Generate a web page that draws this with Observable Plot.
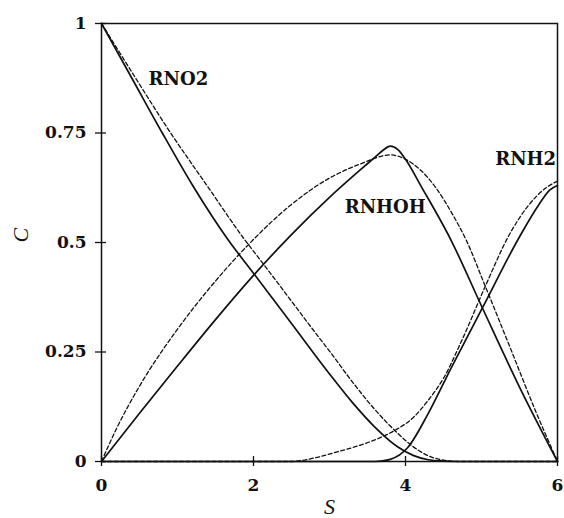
<!DOCTYPE html>
<html>
<head>
<meta charset="utf-8">
<script src="https://cdn.jsdelivr.net/npm/d3@7"></script>
<script src="https://cdn.jsdelivr.net/npm/@observablehq/plot@0.6"></script>
<style>
  html, body { margin: 0; padding: 0; background: #fff; }
  #chart svg { display: block; }
</style>
</head>
<body>
<div id="chart"></div>
<script>
// ---- data ----
const xTicks = [0, 2, 4, 6];
const xTickLabels = ["0", "2", "4", "6"];
const yTicks = [0, 0.25, 0.5, 0.75, 1];
const yTickLabels = ["0", "0.25", "0.5", "0.75", "1"];

// RNO2
const rno2SolidS = [0, 0.4, 0.8, 1.2, 1.67, 2.0, 2.5, 3.0, 3.3, 3.6, 3.9, 4.1, 4.3, 4.5, 4.7, 6.0];
const rno2SolidC = [1, 0.875, 0.75, 0.63, 0.505, 0.43, 0.315, 0.2, 0.135, 0.078, 0.033, 0.014, 0.004, 0.001, 0, 0];
const rno2DashS  = [0, 0.45, 0.91, 1.4, 1.89, 2.09, 2.5, 2.84, 3.0, 3.3, 3.6, 3.9, 4.1, 4.3, 4.5, 4.7, 6.0];
const rno2DashC  = [1, 0.875, 0.75, 0.627, 0.505, 0.46, 0.366, 0.288, 0.252, 0.182, 0.118, 0.064, 0.034, 0.013, 0.003, 0, 0];

// RNHOH
const rnhohSolidS = [0, 0.5, 1.0, 1.5, 2.0, 2.5, 3.0, 3.4, 3.6, 3.7, 3.8, 3.9, 4.0, 4.2, 4.6, 5.0, 5.5, 6.0];
const rnhohSolidC = [0, 0.11, 0.218, 0.324, 0.425, 0.518, 0.603, 0.665, 0.695, 0.71, 0.72, 0.712, 0.69, 0.63, 0.505, 0.355, 0.17, 0];
const rnhohDashS  = [0, 0.2, 0.5, 1.0, 1.5, 2.0, 2.5, 3.0, 3.4, 3.8, 4.0, 4.2, 4.4, 4.6, 4.8, 5.05, 5.4, 5.7, 6.0];
const rnhohDashC  = [0, 0.076, 0.172, 0.302, 0.412, 0.507, 0.587, 0.647, 0.679, 0.70, 0.69, 0.665, 0.625, 0.57, 0.505, 0.40, 0.25, 0.12, 0];

// RNH2
const rnh2SolidS = [0, 3.6, 3.8, 4.03, 4.3, 4.59, 5.01, 5.51, 5.75, 5.9, 6.0];
const rnh2SolidC = [0, 0, 0.005, 0.032, 0.11, 0.21, 0.35, 0.516, 0.585, 0.62, 0.63];
const rnh2DashS  = [0, 2.5, 2.8, 3.1, 3.4, 3.7, 3.9, 4.1, 4.3, 4.5, 4.75, 5.05, 5.36, 5.62, 5.85, 6.0];
const rnh2DashC  = [0, 0, 0.008, 0.022, 0.037, 0.057, 0.075, 0.1, 0.14, 0.19, 0.28, 0.40, 0.516, 0.585, 0.625, 0.64];

// curve labels
const labelNames = ["RNO2", "RNHOH", "RNH2"];
const labelS = [0.62, 3.2, 5.18];
const labelC = [0.872, 0.58, 0.69];

// ---- build tables ----
const toRows = (S, C) => S.map((s, i) => ({S: s, C: C[i]}));
const solidSeries = [toRows(rno2SolidS, rno2SolidC), toRows(rnhohSolidS, rnhohSolidC), toRows(rnh2SolidS, rnh2SolidC)];
const dashSeries = [toRows(rno2DashS, rno2DashC), toRows(rnhohDashS, rnhohDashC), toRows(rnh2DashS, rnh2DashC)];
const labels = labelNames.map((t, i) => ({t, S: labelS[i], C: labelC[i]}));

const ink = "#111";

const marks = [
  Plot.frame({stroke: ink, strokeWidth: 1.5}),
  // tick marks crossing the axes
  Plot.axisX({ticks: xTicks, label: null, tickSize: 10, dy: -5, tickFormat: () => "", stroke: ink, strokeWidth: 1.3}),
  Plot.axisY({ticks: yTicks, label: null, tickSize: 11, dx: 5, tickFormat: () => "", stroke: ink, strokeWidth: 1.3}),
  // tick labels
  Plot.axisX({ticks: xTicks, label: null, tickSize: 0, tickPadding: 17, tickFormat: d => xTickLabels[xTicks.indexOf(d)],
    fill: ink, fontWeight: "bold", fontSize: 17, fontFamily: "'DejaVu Serif', serif"}),
  Plot.axisY({ticks: yTicks, label: null, tickSize: 0, tickPadding: 15, tickFormat: d => yTickLabels[yTicks.indexOf(d)],
    fill: ink, fontWeight: "bold", fontSize: 17, fontFamily: "'DejaVu Serif', serif"}),
  ...solidSeries.map(rows => Plot.line(rows, {x: "S", y: "C", curve: "monotone-x", stroke: ink, strokeWidth: 1.7})),
  ...dashSeries.map(rows => Plot.line(rows, {x: "S", y: "C", curve: "monotone-x", stroke: ink, strokeWidth: 1.3, strokeDasharray: "4,2.5"})),
  Plot.text(labels, {x: "S", y: "C", text: "t", textAnchor: "start", fill: ink, fontWeight: "bold", fontSize: 18, fontFamily: "'DejaVu Serif', serif"}),
  Plot.text(["S"], {frameAnchor: "bottom", dy: 52, text: d => d, fill: ink, fontStyle: "italic", fontSize: 22, fontFamily: "'Liberation Serif', serif"}),
  Plot.text(["C"], {frameAnchor: "left", dx: -81, rotate: -90, text: d => d, fill: ink, fontStyle: "italic", fontSize: 22, fontFamily: "'Liberation Serif', serif"})
];

const chart = Plot.plot({
  width: 564,
  height: 518,
  marginLeft: 101,
  marginRight: 7,
  marginTop: 23,
  marginBottom: 57,
  style: {background: "#fff", color: ink},
  x: {domain: [0, 6], nice: false},
  y: {domain: [0, 1], nice: false},
  marks
});
document.getElementById("chart").appendChild(chart);
</script>
</body>
</html>
